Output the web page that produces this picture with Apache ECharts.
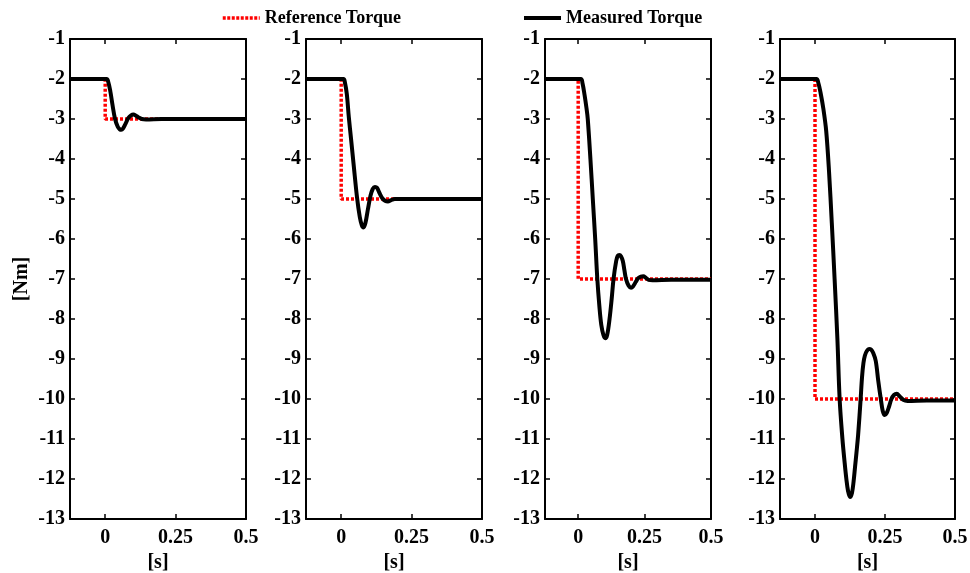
<!DOCTYPE html>
<html>
<head>
<meta charset="utf-8">
<script src="https://cdn.jsdelivr.net/npm/echarts@6/dist/echarts.min.js"></script>
<style>
  html, body { margin: 0; padding: 0; background: #ffffff; }
  #chart { width: 970px; height: 573px; }
</style>
</head>
<body>
<div id="chart"></div>
<script>
// Torque step responses for four step sizes, one panel each.

// x-axis tick values [s] and y-axis range [Nm]
const timeTicks = [0, 0.25, 0.5];
const timeRange = [-0.125, 0.5];
const torqueRange = [-13, -1];

// Reference torque: step from the initial level to each target at t = 0
const refTime = [-0.125, 0, 0, 0.5];
const refInitial = -2;
const refTargets = [-3, -5, -7, -10];

// Measured torque, panel 1 (step to -3 Nm)
const measTime1 = [-0.125, 0.005, 0.01, 0.018, 0.026, 0.035, 0.045, 0.052, 0.057, 0.063, 0.072, 0.082, 0.092, 0.1, 0.108, 0.118, 0.13, 0.145, 0.2, 0.3, 0.5];
const measTorque1 = [-2, -2, -2.05, -2.3, -2.65, -3.0, -3.2, -3.26, -3.27, -3.24, -3.12, -2.98, -2.91, -2.89, -2.91, -2.96, -3.0, -3.01, -3.0, -3.0, -3.0];

// Measured torque, panel 2 (step to -5 Nm)
const measTime2 = [-0.125, 0.008, 0.013, 0.02, 0.027, 0.035, 0.045, 0.056, 0.066, 0.073, 0.079, 0.086, 0.095, 0.104, 0.112, 0.12, 0.127, 0.136, 0.146, 0.157, 0.166, 0.177, 0.19, 0.21, 0.3, 0.5];
const measTorque2 = [-2, -2, -2.08, -2.38, -2.95, -3.5, -4.2, -4.95, -5.45, -5.65, -5.71, -5.6, -5.25, -4.92, -4.75, -4.7, -4.72, -4.85, -4.98, -5.05, -5.06, -5.03, -5.0, -5.0, -5.0, -5.0];

// Measured torque, panel 3 (step to -7 Nm)
const measTime3 = [-0.125, 0.01, 0.016, 0.024, 0.031, 0.036, 0.046, 0.055, 0.064, 0.072, 0.08, 0.087, 0.095, 0.102, 0.109, 0.118, 0.126, 0.133, 0.143, 0.149, 0.155, 0.161, 0.168, 0.174, 0.18, 0.19, 0.199, 0.208, 0.217, 0.226, 0.236, 0.245, 0.255, 0.265, 0.28, 0.35, 0.5];
const measTorque3 = [-2, -2, -2.1, -2.4, -2.72, -3.0, -4.0, -5.0, -6.0, -7.0, -7.7, -8.15, -8.4, -8.48, -8.4, -8.0, -7.5, -7.0, -6.55, -6.42, -6.4, -6.43, -6.55, -6.78, -7.0, -7.17, -7.22, -7.17, -7.07, -6.98, -6.94, -6.93, -6.97, -7.02, -7.03, -7.02, -7.02];

// Measured torque, panel 4 (step to -10 Nm)
const measTime4 = [-0.125, 0.005, 0.012, 0.02, 0.03, 0.04, 0.05, 0.06, 0.07, 0.08, 0.088, 0.098, 0.106, 0.112, 0.118, 0.125, 0.132, 0.138, 0.143, 0.148, 0.154, 0.163, 0.168, 0.173, 0.178, 0.185, 0.193, 0.2, 0.208, 0.217, 0.226, 0.235, 0.242, 0.249, 0.256, 0.264, 0.273, 0.282, 0.292, 0.302, 0.315, 0.33, 0.4, 0.5];
const measTorque4 = [-2, -2, -2.1, -2.35, -2.75, -3.3, -4.3, -5.6, -7.0, -8.5, -10.0, -11.0, -11.6, -12.0, -12.3, -12.45, -12.35, -12.05, -11.7, -11.35, -10.9, -10.0, -9.45, -9.1, -8.92, -8.8, -8.75, -8.76, -8.85, -9.05, -9.55, -10.0, -10.3, -10.4, -10.35, -10.2, -10.0, -9.9, -9.87, -9.93, -10.02, -10.05, -10.04, -10.04];

const measTimes = [measTime1, measTime2, measTime3, measTime4];
const measTorques = [measTorque1, measTorque2, measTorque3, measTorque4];

// Panel boxes in pixels
const panels = [
  { left: 70, width: 176 },
  { left: 306, width: 176 },
  { left: 545, width: 166 },
  { left: 780, width: 175 }
];
const panelTop = 39;
const panelHeight = 480;

const FONT = 'Liberation Serif';
const labelStyle = { color: '#000', fontFamily: FONT, fontWeight: 'bold', fontSize: 20 };
const axisLine = { show: true, onZero: false, lineStyle: { color: '#000', width: 2 } };
const tickStyle = { color: '#000', width: 1.5 };

const grid = [], xAxis = [], yAxis = [], series = [];

panels.forEach(function (p, i) {
  grid.push({
    left: p.left, top: panelTop, width: p.width, height: panelHeight,
    containLabel: false, outerBoundsMode: 'none'
  });

  // bottom axis with labels
  xAxis.push({
    type: 'value', gridIndex: i, position: 'bottom',
    min: timeRange[0], max: timeRange[1],
    name: '[s]', nameLocation: 'middle', nameGap: 32,
    nameTextStyle: labelStyle,
    axisLine: axisLine,
    axisTick: { show: true, inside: true, length: 5, customValues: timeTicks, lineStyle: tickStyle },
    axisLabel: Object.assign({ show: true, margin: 9, customValues: timeTicks, showMinLabel: true, showMaxLabel: true }, labelStyle),
    splitLine: { show: false }
  });
  // top axis: ticks only
  xAxis.push({
    type: 'value', gridIndex: i, position: 'top',
    min: timeRange[0], max: timeRange[1],
    axisLine: axisLine,
    axisTick: { show: true, inside: true, length: 5, customValues: timeTicks, lineStyle: tickStyle },
    axisLabel: { show: false },
    splitLine: { show: false }
  });

  // left axis with labels
  yAxis.push({
    type: 'value', gridIndex: i, position: 'left',
    min: torqueRange[0], max: torqueRange[1], interval: 1,
    name: i === 0 ? '[Nm]' : '', nameLocation: 'middle', nameGap: 38, nameRotate: 90,
    nameTextStyle: labelStyle,
    axisLine: axisLine,
    axisTick: { show: true, inside: true, length: 5, lineStyle: tickStyle },
    axisLabel: Object.assign({ show: true, margin: 5 }, labelStyle),
    splitLine: { show: false }
  });
  // right axis: ticks only
  yAxis.push({
    type: 'value', gridIndex: i, position: 'right',
    min: torqueRange[0], max: torqueRange[1], interval: 1,
    axisLine: axisLine,
    axisTick: { show: true, inside: true, length: 5, lineStyle: tickStyle },
    axisLabel: { show: false },
    splitLine: { show: false }
  });

  const refTorque = [refInitial, refInitial, refTargets[i], refTargets[i]];
  series.push({
    name: 'Reference Torque', type: 'line',
    xAxisIndex: 2 * i, yAxisIndex: 2 * i,
    data: refTime.map(function (t, k) { return [t, refTorque[k]]; }),
    symbol: 'none', smooth: false, clip: true, z: 2,
    lineStyle: { color: '#ff0000', width: 3.5, type: [3, 2] },
    itemStyle: { color: '#ff0000' }
  });
  series.push({
    name: 'Measured Torque', type: 'line',
    xAxisIndex: 2 * i, yAxisIndex: 2 * i,
    data: measTimes[i].map(function (t, k) { return [t, measTorques[i][k]]; }),
    symbol: 'none', smooth: 0.35, clip: true, z: 3,
    lineStyle: { color: '#000', width: 4 },
    itemStyle: { color: '#000' }
  });
});

const legendText = { color: '#000', fontFamily: FONT, fontWeight: 'bold', fontSize: 18 };
const legendBase = {
  top: 9, padding: 0, itemWidth: 37, itemHeight: 14, itemGap: 0, textStyle: legendText,
  selectedMode: false, itemStyle: { opacity: 0 }
};

const option = {
  animation: false,
  backgroundColor: '#ffffff',
  legend: [
    Object.assign({ data: ['Reference Torque'], left: 221, lineStyle: { width: 3.5, type: [3, 1.5] } }, legendBase),
    Object.assign({ data: ['Measured Torque'], left: 522, lineStyle: { width: 4 } }, legendBase)
  ],
  grid: grid,
  xAxis: xAxis,
  yAxis: yAxis,
  series: series
};

const chart = echarts.init(document.getElementById('chart'), null, { renderer: 'canvas' });
chart.setOption(option);
</script>
</body>
</html>
